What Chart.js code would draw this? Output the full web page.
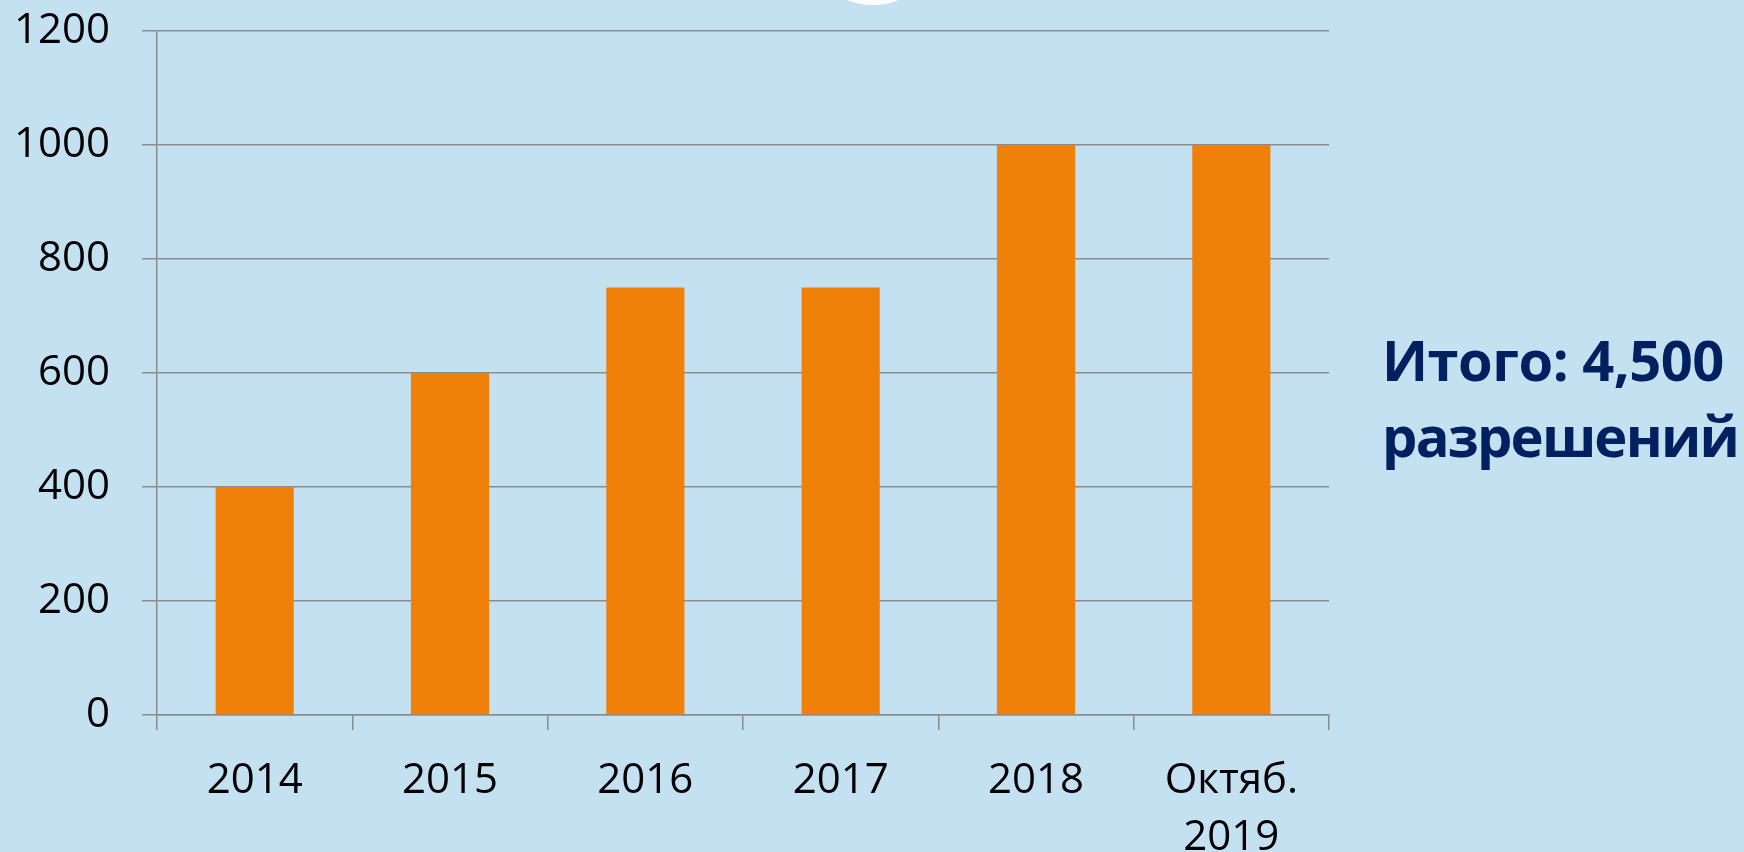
<!DOCTYPE html>
<html>
<head>
<meta charset="utf-8">
<script src="https://cdn.jsdelivr.net/npm/chart.js@4/dist/chart.umd.min.js"></script>
<style>
  html, body { margin: 0; padding: 0; background: #c4e1f2; overflow: hidden; }
  .wrap { position: relative; width: 1744px; height: 852px; }
  .dot { position: absolute; left: 803px; top: -135px; width: 140px; height: 140px; border-radius: 50%; background: #fff; }
  .total {
    position: absolute; left: 1382px; top: 321px;
    font-family: "Open Sans", sans-serif; font-weight: bold; font-size: 56px; line-height: 76px;
    letter-spacing: -0.5px; color: #002060; white-space: nowrap;
  }
  .total span { display: inline-block; }
</style>
</head>
<body>
<div class="wrap">
  <canvas id="chart" width="1744" height="852"></canvas>
  <div class="dot"></div>
  <div class="total"><span id="l1">Итого: 4,500</span><br><span id="l2">разрешений</span></div>
</div>
<script>
const categories = ['2014', '2015', '2016', '2017', '2018', ['Октяб.', '2019']];
const permits = [400, 600, 750, 750, 1000, 1000];
const yTicks = [0, 200, 400, 600, 800, 1000, 1200];

const gridColor = '#8c8c8c';
const tickFont = { family: '"Open Sans", sans-serif', size: 42, lineHeight: 1.36 };

// squeeze the second caption line to the width it has in the original
document.fonts.ready.then(() => {
  const l2 = document.getElementById('l2');
  const w = l2.getBoundingClientRect().width;
  if (w > 356) l2.style.letterSpacing = (-0.5 + (356 - w) / 10) + 'px';
});

const ctx = document.getElementById('chart').getContext('2d');
new Chart(ctx, {
  type: 'bar',
  data: {
    labels: categories,
    datasets: [{
      data: permits,
      backgroundColor: '#ef800a',
      borderWidth: 0,
      barPercentage: 0.4,
      categoryPercentage: 1
    }]
  },
  options: {
    responsive: false,
    animation: false,
    layout: { padding: { left: 0, right: 415, top: 31, bottom: 0 } },
    plugins: { legend: { display: false }, tooltip: { enabled: false } },
    scales: {
      x: {
        afterFit: (s) => { s.height = 137; s.paddingLeft = 0; s.paddingRight = 0; },
        grid: { display: true, drawOnChartArea: false, tickLength: 15, color: gridColor, lineWidth: 1.5, offset: true },
        border: { color: gridColor, width: 1.5 },
        ticks: { color: '#000', font: tickFont, padding: 22, maxRotation: 0, autoSkip: false }
      },
      y: {
        min: 0,
        max: 1200,
        afterFit: (s) => { s.width = 157; s.paddingTop = 0; s.paddingBottom = 0; },
        afterBuildTicks: (s) => { s.ticks = yTicks.map(v => ({ value: v })); },
        grid: { color: gridColor, lineWidth: 1.5, tickLength: 15 },
        border: { color: gridColor, width: 1.5 },
        ticks: { color: '#000', font: { family: tickFont.family, size: 42 }, padding: 32, callback: (v) => String(v) }
      }
    }
  }
});
</script>
</body>
</html>
